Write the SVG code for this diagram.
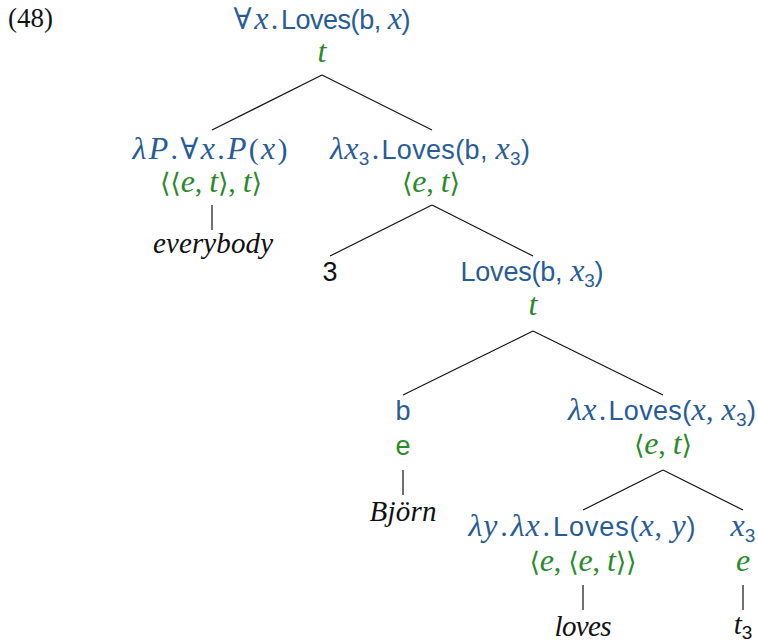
<svg xmlns="http://www.w3.org/2000/svg" width="758" height="642" viewBox="0 0 758 642">
<style>
text{font-size:28px;text-anchor:middle}
.n{fill:#275c97}.g{fill:#2a8a2a}.k{fill:#111}
.s{font-family:"Liberation Sans","DejaVu Sans",sans-serif;font-style:normal;font-size:27px}
.i{font-family:"Liberation Serif","DejaVu Serif",serif;font-style:italic;font-size:32px}
.w{font-family:"Liberation Serif","DejaVu Serif",serif;font-style:italic;font-size:29px}
.r{font-family:"Liberation Serif","DejaVu Serif",serif;font-style:normal;font-size:30px}
.a{font-family:"DejaVu Serif","Liberation Serif",serif;font-style:normal;font-size:27px}
.sub{font-size:19px}
#edges line{stroke:#111;stroke-width:1.2}
</style>
<rect width="758" height="642" fill="#fff"/>
<text x="8" y="27" class="r k" style="text-anchor:start;font-size:27px">(48)</text>
<g id="edges">
<line x1="322" y1="75" x2="212" y2="130"/>
<line x1="322" y1="75" x2="432" y2="130"/>
<line x1="212" y1="205" x2="212" y2="230"/>
<line x1="432" y1="205" x2="330" y2="256"/>
<line x1="432" y1="205" x2="533" y2="256"/>
<line x1="533" y1="331" x2="403" y2="395"/>
<line x1="533" y1="331" x2="663" y2="395"/>
<line x1="403" y1="470" x2="403" y2="495"/>
<line x1="663" y1="470" x2="583" y2="510"/>
<line x1="663" y1="470" x2="743" y2="510"/>
<line x1="583" y1="585" x2="583" y2="610"/>
<line x1="743" y1="585" x2="743" y2="610"/>
</g>
<g id="root">
<text x="322" y="29" class="n" textLength="177"><tspan class="r">∀</tspan><tspan class="i" dx="3">x</tspan><tspan class="r" dx="3">.</tspan><tspan class="s" dx="3">Loves(b, </tspan><tspan class="i">x</tspan><tspan class="s">)</tspan></text>
<text x="322" y="62" class="g i">t</text>
</g>
<g id="everybody-node">
<text x="210" y="159" class="n" textLength="155"><tspan class="i">λP</tspan><tspan class="r">.∀</tspan><tspan class="i">x</tspan><tspan class="r">.</tspan><tspan class="i">P</tspan><tspan class="r">(</tspan><tspan class="i">x</tspan><tspan class="r">)</tspan></text>
<text x="211" y="192" class="g" textLength="102"><tspan class="a">⟨⟨</tspan><tspan class="i">e</tspan><tspan class="r">, </tspan><tspan class="i">t</tspan><tspan class="a">⟩</tspan><tspan class="r">, </tspan><tspan class="i">t</tspan><tspan class="a">⟩</tspan></text>
</g>
<g id="everybody"><text x="213" y="253" class="w k" textLength="120">everybody</text></g>
<g id="lambda-x3">
<text x="430" y="159" class="n" textLength="200"><tspan class="i">λx</tspan><tspan class="s sub" dy="6">3</tspan><tspan class="r" dy="-6" dx="2">.</tspan><tspan class="s" dx="2">Loves(b, </tspan><tspan class="i">x</tspan><tspan class="s sub" dy="6">3</tspan><tspan class="s" dy="-6">)</tspan></text>
<text x="431" y="192" class="g" textLength="58"><tspan class="a">⟨</tspan><tspan class="i">e</tspan><tspan class="r">, </tspan><tspan class="i">t</tspan><tspan class="a">⟩</tspan></text>
</g>
<g id="three"><text x="330" y="281" class="s k">3</text></g>
<g id="loves-b-x3">
<text x="532" y="281" class="n" textLength="143"><tspan class="s">Loves(b,</tspan><tspan class="i"> x</tspan><tspan class="s sub" dy="6">3</tspan><tspan class="s" dy="-6">)</tspan></text>
<text x="533" y="315" class="g i">t</text>
</g>
<g id="b-node">
<text x="403" y="420" class="n s">b</text>
<text x="403" y="455" class="g s">e</text>
</g>
<g id="bjorn"><text x="403" y="521" class="w k" textLength="67">Björn</text></g>
<g id="lambda-x">
<text x="662" y="420" class="n" textLength="188"><tspan class="i">λx</tspan><tspan class="r" dx="2">.</tspan><tspan class="s" dx="2">Loves(</tspan><tspan class="i">x</tspan><tspan class="r">, </tspan><tspan class="i">x</tspan><tspan class="s sub" dy="6">3</tspan><tspan class="s" dy="-6">)</tspan></text>
<text x="663" y="454" class="g" textLength="58"><tspan class="a">⟨</tspan><tspan class="i">e</tspan><tspan class="r">, </tspan><tspan class="i">t</tspan><tspan class="a">⟩</tspan></text>
</g>
<g id="lambda-y">
<text x="582" y="536" class="n" textLength="227"><tspan class="i">λy</tspan><tspan class="r" dx="2">.</tspan><tspan class="i" dx="2">λx</tspan><tspan class="r" dx="2">.</tspan><tspan class="s" dx="2">Loves(</tspan><tspan class="i">x</tspan><tspan class="r">, </tspan><tspan class="i">y</tspan><tspan class="s">)</tspan></text>
<text x="583" y="571" class="g" textLength="107"><tspan class="a">⟨</tspan><tspan class="i">e</tspan><tspan class="r">, </tspan><tspan class="a">⟨</tspan><tspan class="i">e</tspan><tspan class="r">, </tspan><tspan class="i">t</tspan><tspan class="a">⟩⟩</tspan></text>
</g>
<g id="x3-node">
<text x="743" y="536" class="n"><tspan class="i">x</tspan><tspan class="s sub" dy="6">3</tspan></text>
<text x="743" y="571" class="g i">e</text>
</g>
<g id="loves"><text x="583" y="636" class="w k" textLength="57">loves</text></g>
<g id="t3"><text x="743" y="634" class="k"><tspan class="w">t</tspan><tspan class="s sub" dy="5">3</tspan></text></g>
</svg>
